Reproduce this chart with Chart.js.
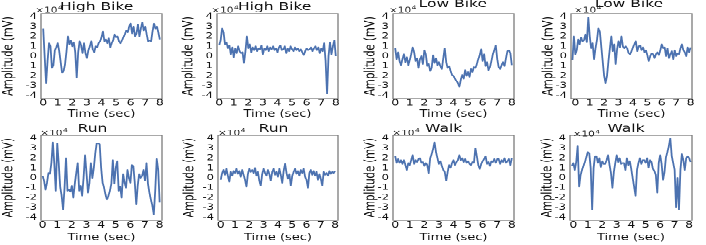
<!DOCTYPE html>
<html><head><meta charset="utf-8">
<script src="https://cdn.jsdelivr.net/npm/chart.js@4.4.1/dist/chart.umd.min.js"></script>
<style>
html,body{margin:0;padding:0;background:#fff;width:706px;height:245px;overflow:hidden}
#stage{position:absolute;left:0;top:0;width:706px;height:340px;transform:scaleY(0.72);transform-origin:0 0}
#stage canvas{position:absolute}
</style></head><body><div id="stage"></div>
<script>
// ---------------- DATA ----------------
const timeStd = [0,0.1,0.2,0.3,0.4,0.5,0.6,0.7,0.8,0.9,1,1.1,1.2,1.3,1.4,1.5,1.6,1.7,1.8,1.9,2,2.1,2.2,2.3,2.4,2.5,2.6,2.7,2.8,2.9,3,3.1,3.2,3.3,3.4,3.5,3.6,3.7,3.8,3.9,4,4.1,4.2,4.3,4.4,4.5,4.6,4.7,4.8,4.9,5,5.1,5.2,5.3,5.4,5.5,5.6,5.7,5.8,5.9,6,6.1,6.2,6.3,6.4,6.5,6.6,6.7,6.8,6.9,7,7.1,7.2,7.3,7.4,7.5,7.6,7.7,7.8,7.9,8];
const timeLowBike2 = [-0.2,-0.1].concat(timeStd);
const timeWalk2 = [-0.1].concat(timeStd, [8.1]);

// amplitudes in units of 10^4 mV
const highBike1 = [
 2.8,0.0,-2.7,-0.5,1.3,1.0,-1.2,-0.9,0.6,0.9,
 1.3,0.5,-0.6,-1.7,-1.5,-0.8,0.5,2.0,1.2,1.6,
 1.0,1.4,0.4,-2.2,0.4,1.5,1.1,0.3,1.3,0.3,
 -0.2,0.6,1.0,1.5,0.7,0.4,1.0,0.9,1.3,1.5,
 1.9,2.5,1.5,1.7,1.3,1.8,0.9,1.3,1.6,2.2,
 1.9,2.0,1.5,1.3,1.6,1.9,2.2,2.6,2.4,3.0,
 3.3,2.3,3.0,2.0,2.3,3.2,2.0,2.8,3.4,2.6,
 3.0,2.2,1.5,1.6,1.5,2.5,3.3,2.8,3.0,2.4,
 1.7];
const highBike2 = [
 1.1,1.6,2.8,2.4,1.2,1.4,0.8,1.1,0.2,0.9,
 -0.1,0.8,0.3,1.0,0.5,0.3,0.4,-0.7,0.5,2.0,
 0.8,1.2,0.4,0.9,0.6,1.0,0.5,0.8,0.7,1.1,
 0.2,0.8,0.6,1.0,0.5,0.9,0.7,1.0,0.6,0.8,
 0.4,0.9,1.1,0.6,0.7,1.0,0.3,0.8,0.5,1.0,
 0.7,0.5,0.9,0.6,0.8,0.5,0.7,0.4,0.1,0.5,
 0.8,0.6,0.7,0.9,0.5,0.8,1.0,0.6,0.9,0.3,
 0.8,0.5,1.3,-0.5,-3.8,0.0,1.4,0.2,1.0,1.6,
 0.0];
const lowBike1 = [
 0.8,-0.3,0.4,-0.5,-0.9,-0.3,0.2,-0.6,-0.1,-0.9,
 -0.4,0.2,0.9,0.4,-0.5,-0.2,-1.2,-0.3,0.0,-0.8,
 0.6,0.2,-1.0,-0.8,-1.5,-1.2,0.1,-0.7,-0.2,-0.9,
 -0.6,-1.0,-1.3,-0.2,0.8,-0.6,-1.2,-1.0,-1.5,-1.9,
 -2.0,-2.3,-2.5,-2.7,-3.1,-2.4,-1.9,-2.3,-1.4,-2.0,
 -1.6,-2.1,-1.3,-1.6,-1.1,-1.2,-0.8,-0.3,0.1,0.7,
 -0.5,0.2,-1.0,-0.6,-1.4,-1.1,-0.5,0.2,0.6,1.1,
 -0.3,-1.1,-1.3,-0.9,-0.6,-1.0,-0.2,0.5,0.6,0.3,
 -0.9];
const lowBike2 = [
 -0.4,2.0,
 0.2,0.6,1.7,1.2,1.9,1.5,1.6,2.2,1.4,3.9,
 2.0,0.8,1.3,-0.3,0.8,1.6,2.8,2.5,1.0,-0.5,
 -2.0,-2.7,-2.0,-0.5,0.8,2.0,0.5,1.2,-0.8,0.7,
 1.5,0.9,2.0,1.0,0.8,1.0,0.8,0.3,0.2,0.5,
 0.9,1.2,1.5,0.5,1.0,1.1,0.6,0.9,0.4,0.6,
 0.1,-0.5,0.0,0.3,0.2,-0.2,0.2,0.4,0.1,0.6,
 1.2,0.8,0.9,0.0,0.8,-0.2,0.2,0.5,-0.3,0.6,
 0.0,0.3,0.2,0.8,1.2,0.6,0.4,0.0,0.9,0.4,
 0.9];
const run1 = [
 0.2,-0.3,-1.2,-0.5,0.5,0.4,1.5,3.6,1.4,-1.3,
 3.5,1.5,-0.9,-1.8,-3.2,-1.0,2.0,-1.3,-1.2,-1.4,
 -0.8,-2.0,-0.6,0.5,1.5,-1.3,-0.8,-1.8,0.0,2.3,
 0.5,-1.5,-0.5,1.5,0.0,1.0,2.5,3.5,3.5,3.4,
 1.0,-0.5,-1.0,-1.7,-2.2,-1.8,-1.3,-0.6,1.8,-0.6,
 1.0,1.7,-1.3,-0.9,-2.0,0.4,-0.5,-1.0,0.8,0.0,
 -0.5,1.3,1.2,-0.5,-2.7,-0.8,0.4,0.0,0.2,0.8,
 -0.3,1.5,-0.6,-1.5,-2.2,-2.8,-3.7,-1.2,1.9,0.8,
 -2.5];
const run2 = [
 -0.2,0.5,0.8,0.3,0.9,0.2,-0.4,0.6,0.2,0.7,
 0.5,0.9,0.4,0.7,0.1,0.8,0.3,-0.2,-0.9,0.4,
 0.9,0.6,0.8,0.5,1.0,0.2,0.6,-0.3,-0.8,0.4,
 0.9,0.5,0.2,0.8,0.4,-0.3,0.6,0.9,0.3,0.6,
 0.1,0.9,0.3,-0.5,0.7,1.4,0.5,-0.1,0.4,-0.8,
 0.2,0.6,0.9,0.4,0.7,0.2,0.8,0.5,0.9,0.1,
 -0.2,-1.0,0.5,0.8,0.3,0.7,0.2,0.6,-0.2,0.4,
 -0.1,-0.8,0.6,0.3,0.5,0.2,0.7,0.4,0.6,0.5,
 0.7];
const walk1 = [
 2.2,1.5,1.9,1.5,1.8,1.4,1.8,1.3,0.8,1.5,
 1.3,1.8,2.3,1.4,1.8,1.6,1.9,2.0,1.5,1.6,
 1.2,1.5,1.3,0.5,2.0,2.4,2.9,3.6,2.6,2.0,
 1.4,1.7,1.2,0.8,0.6,-0.3,0.6,1.3,1.0,1.5,
 1.8,1.3,1.6,1.8,2.3,1.8,2.0,1.6,1.9,1.5,
 1.7,1.4,1.3,1.6,1.5,3.0,2.2,1.3,0.9,1.4,
 1.7,1.9,2.2,1.4,1.6,1.2,1.7,1.6,1.9,1.5,
 1.9,1.9,1.4,1.8,1.6,2.0,1.5,1.7,1.9,1.3,
 2.0];
const walk2 = [
 1.2,
 1.5,0.8,1.6,3.2,-0.9,0.3,0.8,1.2,1.6,2.1,
 2.6,2.5,1.0,-3.2,1.0,2.2,2.2,1.5,2.0,1.1,
 1.7,1.4,1.4,1.8,2.3,1.3,0.5,-1.0,0.6,1.5,
 2.3,1.6,2.0,1.4,1.5,1.5,0.8,2.0,1.3,1.7,
 0.9,0.0,-0.9,-1.8,0.8,1.5,2.0,1.4,1.8,1.8,
 1.5,2.0,1.0,1.8,1.6,0.9,0.7,0.3,-1.5,1.5,
 2.3,1.4,-0.2,0.6,2.1,2.6,3.2,4.0,2.2,1.5,
 0.8,-3.0,0.0,-3.2,0.8,2.4,1.8,0.8,2.0,2.2,
 2.0,1.6];

const panelTitles = ['High Bike','High Bike','Low Bike','Low Bike','Run','Run','Walk','Walk'];
const panelTimes  = [timeStd,timeStd,timeStd,timeLowBike2,timeStd,timeStd,timeStd,timeWalk2];
const panelValues = [highBike1,highBike2,lowBike1,lowBike2,run1,run2,walk1,walk2];
const xTickValues = [0,1,2,3,4,5,6,7,8];
const yTickValues = [-4,-3,-2,-1,0,1,2,3,4];
const xAxisLabel = 'Time (sec)';
const yAxisLabel = 'Amplitude (mV)';
const expBase = '×10', expPow = '4';
const SCALE = 1e4;
const yLimit = 4.3;

// ---------------- LAYOUT / STYLE ----------------
const FONT = 'DejaVu Sans', INK = '#111111', LINE = '#4c72b0', FRAME = '#7a7a7a';
const Y_AXIS_W = 40, TOP_PAD = 20, RIGHT_PAD = 6;
const R1 = {y0:19, y1:137, xh:30, xlabPad:0.5, tickPad:0};
const R2 = {y0:188, y1:306, xh:32, xlabPad:0.2, tickPad:0.5};
const layout = [
 {row:R1, x0:41,  x1:162, xr:[-0.15,8.15], tdx:-4.8, tdy:-9.0,  edx:-5.7, edy:-5.5, ylp:-0.5},
 {row:R1, x0:217, x1:338, xr:[-0.15,8.15], tdx:-2.8, tdy:-9.0,  edx:-5.7, edy:-5.5, ylp:3.4},
 {row:R1, x0:393, x1:514, xr:[-0.15,8.15], tdx:-0.7, tdy:-12.8, edx:-4,   edy:-5.5, ylp:9.7},
 {row:R1, x0:571, x1:692, xr:[-0.3,8.1],   tdx:-2.5, tdy:-12.8, edx:3,    edy:-5.5, ylp:9.7},
 {row:R2, x0:41,  x1:162, xr:[-0.11,8.16], tdx:-9,   tdy:-8.8,  edx:-0.7, edy:-3.9, ylp:-0.5},
 {row:R2, x0:218, x1:338, xr:[-0.19,8.2],  tdx:-4.5, tdy:-8.8,  edx:0,    edy:-3.9, ylp:3.4},
 {row:R2, x0:393, x1:514, xr:[-0.15,8.15], tdx:-9.8, tdy:-8.8,  edx:-0.7, edy:-3.9, ylp:9.7},
 {row:R2, x0:570, x1:692, xr:[-0.23,8.2],  tdx:-5,   tdy:-8.8,  edx:2.7,  edy:-2.1, ylp:9.7}
];

const framePlugin = {
  id: 'frameAndText',
  afterDraw(chart, args, o) {
    const ctx = chart.ctx, a = chart.chartArea;
    ctx.save();
    ctx.strokeStyle = FRAME; ctx.lineWidth = 1.3;
    ctx.strokeRect(a.left, a.top, a.right - a.left, a.bottom - a.top);
    ctx.fillStyle = INK;
    ctx.font = '15.5px "' + FONT + '"';
    ctx.textAlign = 'center'; ctx.textBaseline = 'middle';
    ctx.fillText(o.title, (a.left + a.right) / 2 + o.tdx, a.top + o.tdy);
    ctx.textAlign = 'left'; ctx.textBaseline = 'alphabetic';
    ctx.fillStyle = '#222222';
    ctx.font = '10.5px "' + FONT + '"';
    const ex = a.left + o.edx, ey = a.top + o.edy + 3.8;
    ctx.fillText(expBase, ex, ey);
    const w = ctx.measureText(expBase).width;
    ctx.font = '7.5px "' + FONT + '"';
    ctx.fillText(expPow, ex + w + 0.5, ey - 4.2);
    ctx.restore();
  }
};

const stage = document.getElementById('stage');
layout.forEach((L, i) => {
  const R = L.row;
  const W = (L.x1 - L.x0) + Y_AXIS_W + RIGHT_PAD;
  const H = TOP_PAD + (R.y1 - R.y0) + R.xh;
  const cv = document.createElement('canvas');
  cv.width = W; cv.height = H;
  cv.style.left = (L.x0 - Y_AXIS_W) + 'px';
  cv.style.top = (R.y0 - TOP_PAD) + 'px';
  cv.style.width = W + 'px'; cv.style.height = H + 'px';
  stage.appendChild(cv);
  const pts = panelTimes[i].map((t, k) => ({x: t, y: panelValues[i][k] * SCALE}));
  new Chart(cv, {
    type: 'line',
    data: {datasets: [{data: pts, borderColor: LINE, borderWidth: 1.8, pointRadius: 0, tension: 0, fill: false, borderJoinStyle: 'round'}]},
    options: {
      responsive: false, animation: false, events: [], devicePixelRatio: 2,
      layout: {padding: {top: TOP_PAD, right: RIGHT_PAD, left: 0, bottom: 0}},
      plugins: {legend: {display: false}, tooltip: {enabled: false}, title: {display: false},
        frameAndText: {title: panelTitles[i], tdx: L.tdx, tdy: L.tdy, edx: L.edx, edy: L.edy}},
      scales: {
        x: {type: 'linear', min: L.xr[0], max: L.xr[1],
          afterBuildTicks: s => { s.ticks = xTickValues.map(v => ({value: v})); },
          afterFit: s => { s.height = R.xh; },
          grid: {display: false, drawTicks: false}, border: {display: false},
          ticks: {autoSkip: false, maxRotation: 0, minRotation: 0, padding: R.tickPad, color: INK,
            font: {family: FONT, size: 12.5, lineHeight: 1}, callback: v => String(v)},
          title: {display: true, text: xAxisLabel, color: INK, font: {family: FONT, size: 13, lineHeight: 1.2},
            padding: {top: 0, bottom: R.xlabPad}}},
        y: {type: 'linear', min: -yLimit * SCALE, max: yLimit * SCALE,
          afterBuildTicks: s => { s.ticks = yTickValues.map(v => ({value: v * SCALE})); },
          afterFit: s => { s.width = Y_AXIS_W; },
          grid: {display: false, drawTicks: false}, border: {display: false},
          ticks: {autoSkip: false, padding: 4, color: INK, font: {family: FONT, size: 11.5, lineHeight: 1},
            callback: v => String(Math.round(v / SCALE))},
          title: {display: true, text: yAxisLabel, color: INK, font: {family: FONT, size: 14, lineHeight: 1.2},
            padding: {top: L.ylp, bottom: 0}}}
      }
    },
    plugins: [framePlugin]
  });
});
</script></body></html>
